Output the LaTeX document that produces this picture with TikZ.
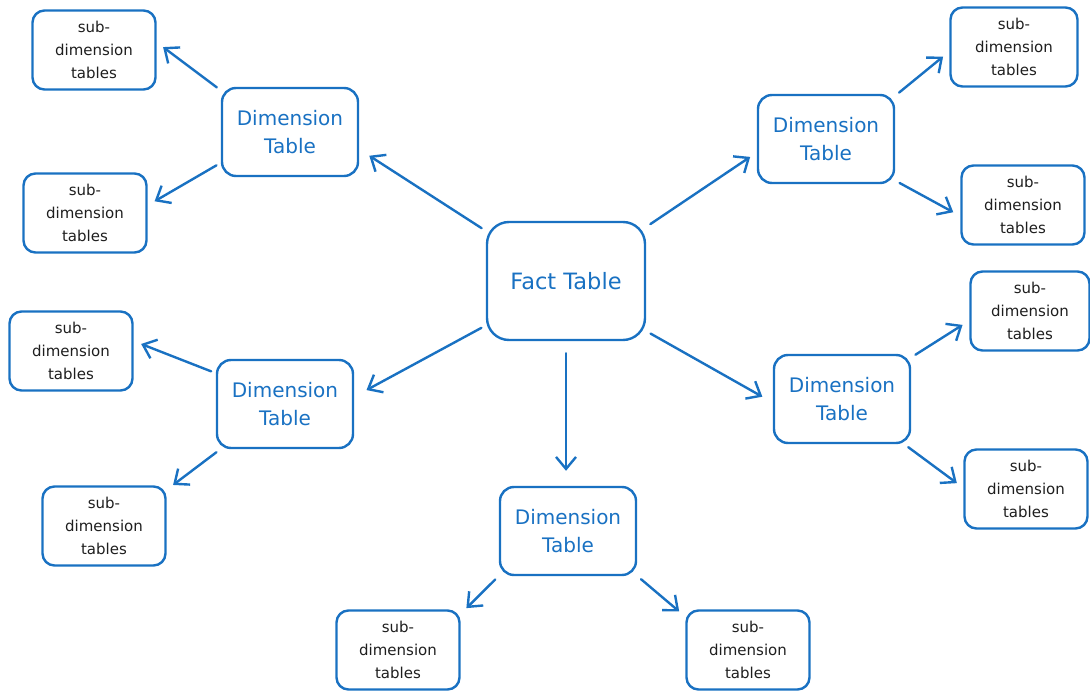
\documentclass[tikz,border=0pt]{standalone}
\usepackage{fontspec}
\setmainfont{DejaVu Sans}
\usetikzlibrary{arrows.meta}
\definecolor{sketchblue}{HTML}{1971C2}
\definecolor{inkgray}{HTML}{1E1E1E}

\begin{document}
\begin{tikzpicture}[x=1pt, y=-1pt,
	box/.style={draw=sketchblue, line width=2.4pt, rounded corners=14pt, align=center, inner sep=0pt},
	fact/.style={box, minimum width=158pt, minimum height=118pt, rounded corners=22pt, text=sketchblue, font=\fontsize{22.5}{28}\selectfont},
	dim/.style={box, minimum width=136pt, minimum height=88pt, text=sketchblue, font=\fontsize{20}{28}\selectfont},
	sub/.style={box, minimum width=123pt, minimum height=79pt, rounded corners=12pt, text=inkgray, font=\fontsize{15}{23}\selectfont},
	link/.style={draw=sketchblue, line width=2.4pt, line cap=round, shorten <=5pt, shorten >=8pt, -{Straight Barb[length=12pt,width=20pt]}}]
	\useasboundingbox (0, 0) rectangle (1090, 692);
	\node[fact] (fact) at (566, 281) {Fact Table};
	\node[dim] (dimtl) at (290, 132) {Dimension\\Table};
	\node[dim] (dimtr) at (826, 139) {Dimension\\Table};
	\node[dim] (dimml) at (285, 404) {Dimension\\Table};
	\node[dim] (dimmr) at (842, 399) {Dimension\\Table};
	\node[dim] (dimb) at (568, 531) {Dimension\\Table};
	\node[sub] (subtl1) at (94, 50) {sub-\\dimension\\tables};
	\node[sub] (subtl2) at (85, 213) {sub-\\dimension\\tables};
	\node[sub] (subml1) at (71, 351) {sub-\\dimension\\tables};
	\node[sub] (subml2) at (104, 526) {sub-\\dimension\\tables};
	\node[sub] (subb1) at (398, 650) {sub-\\dimension\\tables};
	\node[sub] (subb2) at (748, 650) {sub-\\dimension\\tables};
	\node[sub, minimum width=127pt] (subtr1) at (1014, 47) {sub-\\dimension\\tables};
	\node[sub] (subtr2) at (1023, 205) {sub-\\dimension\\tables};
	\node[sub, minimum width=119pt] (submr1) at (1030, 311) {sub-\\dimension\\tables};
	\node[sub] (submr2) at (1026, 489) {sub-\\dimension\\tables};
	\draw[link, shorten >=12pt] (fact.148) -- (dimtl.-14);
	\draw[link, shorten >=8pt] (fact.34) -- (dimtr.191);
	\draw[link, shorten >=14pt] (fact.209) -- (dimml.6);
	\draw[link, shorten >=12pt] (fact.328) -- (dimmr.183);
	\draw[link, shorten <=12pt, shorten >=15pt] (fact.south) -- (fact.south |- dimb.north);
	\draw[link] (dimtl.149) -- (subtl1.7);
	\draw[link] (dimtl.204) -- (subtl2.7);
	\draw[link] (dimml.156) -- (subml1.9);
	\draw[link] (dimml.215) -- (subml2.30);
	\draw[link] (dimb.213) -- (subb1.30);
	\draw[link] (dimb.327) -- (subb2.152);
	\draw[link] (dimtr.32) -- (subtr1.184);
	\draw[link] (dimtr.329) -- (subtr2.190);
	\draw[link] (dimmr.31) -- (submr1.189);
	\draw[link] (dimmr.324) -- (submr2.179);
\end{tikzpicture}
\end{document}
